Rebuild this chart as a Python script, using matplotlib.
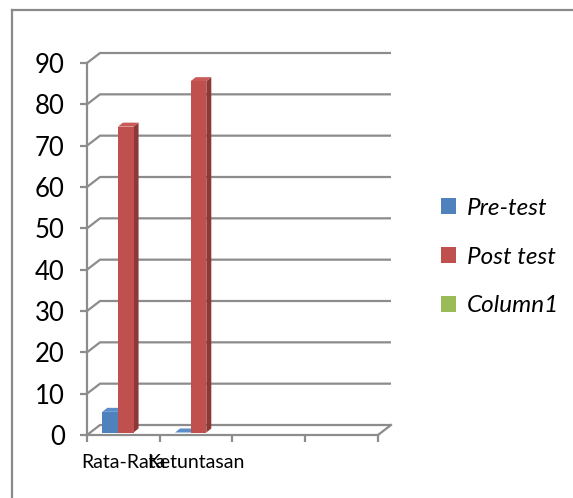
import matplotlib
matplotlib.use("Agg")  # render to file, no GUI
import matplotlib.pyplot as plt
from matplotlib.patches import Polygon, Patch
from matplotlib.lines import Line2D
import numpy as np

# chart data
categories = ["Rata-Rata", "Ketuntasan", "", ""]
series_names = ["Pre-test", "Post test", "Column1"]
pre_test = [5, 0, np.nan, np.nan]
post_test = [74, 85, np.nan, np.nan]
column1 = [np.nan, np.nan, np.nan, np.nan]
y_ticks = [0, 10, 20, 30, 40, 50, 60, 70, 80, 90]

face_colors = ["#4F81BD", "#C0504D", "#9BBB59"]
side_colors = ["#385D8A", "#8C3836", "#71893F"]
top_colors = ["#5B8DC9", "#C95A57", "#A6C563"]
grid_col = "#8C8C8C"

W, H = 573, 498
plt.rcParams["font.family"] = ["Lato", "DejaVu Sans"]

fig = plt.figure(figsize=(W / 100, H / 100), dpi=100)
ax = fig.add_axes([0, 0, 1, 1])

# pixel layout of the plot area: front x 87..378, front y 435 (0) .. 63 (90)
px_x0, px_x1 = 87, 378
px_y0, px_y90 = 435, 63
sx = (px_x1 - px_x0) / len(categories)
sy = (px_y0 - px_y90) / 90.0
ax.set_xlim(-px_x0 / sx, (W - px_x0) / sx)
ax.set_ylim(-(H - px_y0) / sy, px_y0 / sy)
ax.set_facecolor("none")

# back wall offset (depth)
ddx = 13 / sx
ddy = 10 / sy
n_cat = len(categories)

# gridlines on the back wall with the short diagonal to the side wall
for v in y_ticks:
    xs = [0, ddx, n_cat + ddx]
    ys = [v, v + ddy, v + ddy]
    ax.plot(xs, ys, color=grid_col, lw=1.6, zorder=1, solid_capstyle="butt")
# floor right edge
ax.plot([n_cat, n_cat + ddx], [0, ddy], color=grid_col, lw=1.6, zorder=1)

# spines as front edges of the walls
for side in ["top", "right"]:
    ax.spines[side].set_visible(False)
ax.spines["left"].set_position(("data", 0))
ax.spines["left"].set_bounds(0, 90)
ax.spines["bottom"].set_position(("data", 0))
ax.spines["bottom"].set_bounds(0, n_cat)
for side in ["left", "bottom"]:
    ax.spines[side].set_color(grid_col)
    ax.spines[side].set_linewidth(1.6)
    ax.spines[side].set_zorder(2)

ax.set_yticks(y_ticks)
ax.set_yticklabels([str(t) for t in y_ticks], fontsize=18.5)
ax.tick_params(axis="y", direction="out", length=5, width=1.6,
               color=grid_col, pad=11)

ax.set_xticks(np.arange(n_cat + 1))
ax.set_xticklabels([])
ax.set_xticks(np.arange(n_cat) + 0.5, minor=True)
ax.set_xticklabels(categories, minor=True, fontsize=14)
ax.tick_params(axis="x", which="major", direction="out", length=5,
               width=1.6, color=grid_col)
ax.tick_params(axis="x", which="minor", length=0, pad=13.5)

# 3D-looking bars, standing slightly behind the front edge of the floor
bar_w = 0.215
bar_start = 0.21
bdx = 5 / sx
bdy = 4 / sy
lift = 2.5 / sy
all_series = [pre_test, post_test, column1]
for c in range(n_cat):
    for i, vals in enumerate(all_series):
        v = vals[c]
        if np.isnan(v):
            continue
        x0 = c + bar_start + i * bar_w
        b, t = lift, lift + v
        side = Polygon([(x0 + bar_w, b), (x0 + bar_w + bdx, b + bdy),
                        (x0 + bar_w + bdx, t + bdy), (x0 + bar_w, t)],
                       closed=True, facecolor=side_colors[i], edgecolor="none",
                       zorder=3)
        top = Polygon([(x0, t), (x0 + bdx, t + bdy),
                       (x0 + bar_w + bdx, t + bdy), (x0 + bar_w, t)],
                      closed=True, facecolor=top_colors[i], edgecolor="none",
                      zorder=3)
        ax.add_patch(side)
        ax.add_patch(top)
        ax.bar(x0, v, bar_w, bottom=b, align="edge", color=face_colors[i],
               zorder=3)

# legend
handles = [Patch(facecolor=face_colors[i], edgecolor="none", label=series_names[i])
           for i in range(3)]
leg = fig.legend(handles=handles, loc="center left",
                 bbox_to_anchor=(441 / W, 1 - 257 / H),
                 frameon=False, borderpad=0, borderaxespad=0,
                 handlelength=0.6, handleheight=0.6, handletextpad=0.45,
                 labelspacing=1.15, prop={"size": 17.5, "style": "italic"})

# outer chart border (only top and left edges fall inside the picture)
fig.add_artist(Line2D([12 / W, 12 / W], [0, 1 - 10 / H], color="#8A8A8A",
                      lw=1.6, transform=fig.transFigure))
fig.add_artist(Line2D([12 / W, 1], [1 - 10 / H, 1 - 10 / H], color="#8A8A8A",
                      lw=1.6, transform=fig.transFigure))

fig.savefig("out.png", dpi=100, facecolor="white")
plt.close(fig)
